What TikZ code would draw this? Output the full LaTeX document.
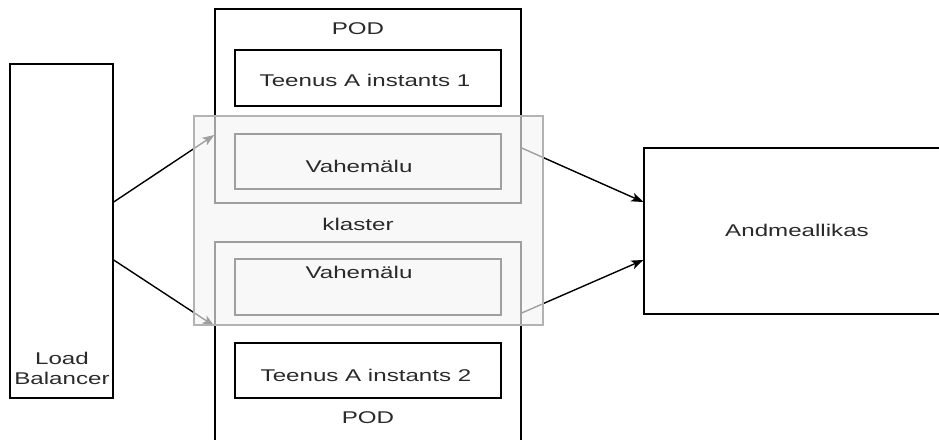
\documentclass[tikz,border=0pt]{standalone}
\usepackage{fontspec}
\setmainfont[FakeStretch=1.42]{Liberation Sans}
\usetikzlibrary{arrows.meta}
\definecolor{txt}{HTML}{2A2A2A}
\definecolor{clfill}{HTML}{F5F5F5}
\definecolor{clborder}{HTML}{B3B3B3}
\begin{document}
\begin{tikzpicture}[x=1pt,y=-1pt,
  box/.style={draw=black,line width=1.4pt,inner sep=0pt},
  lbl/.style={text=txt,font=\fontsize{17}{20}\selectfont,inner sep=0pt},
  conn/.style={-{Stealth[length=12pt,width=9pt,inset=3pt]},line width=1.4pt,draw=black},
  clusterbox/.style={fill=clfill,fill opacity=0.65,draw=clborder,draw opacity=1,line width=1.4pt,inner sep=0pt}]
\useasboundingbox (0,0) rectangle (939,439);
\clip (0,0) rectangle (939,439);
\fill[white] (0,0) rectangle (939,439);
% boxes
\node[box,minimum width=103pt,minimum height=334pt] (lb) at (61.5,231) {};
\node[box,minimum width=306pt,minimum height=194pt] (podtop) at (368,106) {};
\node[box,minimum width=306pt,minimum height=240pt] (podbot) at (368,362) {};
\node[box,minimum width=266pt,minimum height=56pt] (teen1) at (368,78) {};
\node[box,minimum width=266pt,minimum height=55pt] (vah1) at (368,161.5) {};
\node[box,minimum width=266pt,minimum height=56pt] (vah2) at (368,287) {};
\node[box,minimum width=266pt,minimum height=55pt] (teen2) at (368,370.5) {};
\node[box,minimum width=306pt,minimum height=166pt] (andm) at (797,231) {};
% connectors
\draw[conn] ([yshift=29pt]lb.east) -- ([yshift=-29pt]podtop.west);
\draw[conn] ([yshift=-29pt]lb.east) -- ([yshift=36pt]podbot.west);
\draw[conn] ([yshift=-42pt]podtop.east) -- ([yshift=29pt]andm.west);
\draw[conn] ([yshift=49pt]podbot.east) -- ([yshift=-29pt]andm.west);
% cluster overlay
\node[clusterbox,minimum width=349pt,minimum height=209pt] (cluster) at (368.5,220.5) {};
% labels
\node[lbl] (podtoplbl) at (358,29) {POD};
\node[lbl] (teen1lbl) at (365,80) {Teenus A instants 1};
\node[lbl] (vah1lbl) at (359,166) {Vahemälu};
\node[lbl] (klasterlbl) at (358,224) {klaster};
\node[lbl] (vah2lbl) at (359,272) {Vahemälu};
\node[lbl] (teen2lbl) at (366,375) {Teenus A instants 2};
\node[lbl] (podbotlbl) at (368,418) {POD};
\node[lbl] (andmlbl) at (797,230) {Andmeallikas};
\node[lbl,align=center] (lblbl) at (62,368) {Load\\Balancer};
\end{tikzpicture}
\end{document}
